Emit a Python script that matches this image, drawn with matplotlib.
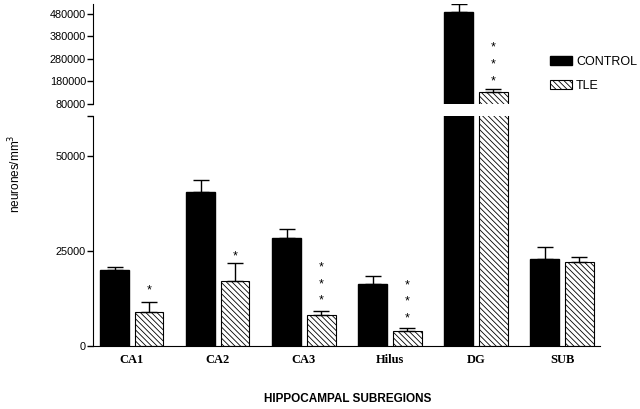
import numpy as np
from matplotlib import pyplot as plt

plt.rcParams['font.family'] = ['Liberation Sans', 'DejaVu Sans']
plt.rcParams['hatch.linewidth'] = 0.6

# Data
regions = ['CA1', 'CA2', 'CA3', 'Hilus', 'DG', 'SUB']
control = [20000, 40500, 28300, 16300, 487000, 22800]
controlErr = [800, 3300, 2500, 2200, 37000, 3300]
tle = [8900, 17200, 8150, 3900, 132000, 22200]
tleErr = [2600, 4700, 1150, 750, 13000, 1300]
stars = [1, 1, 3, 3, 3, 0]
starBase = [15000, 24000, 12300, 7600, 187000, 0]

x = np.arange(len(regions))
w = 0.335
off = 0.2

fig = plt.figure(figsize=(6.4, 4.09), dpi=100)
axTop = fig.add_axes([0.1453, 0.7457, 0.7922, 0.2445])
axBot = fig.add_axes([0.1453, 0.154, 0.7922, 0.5623])

for ax in (axTop, axBot):
    ax.bar(x - off, control, w, color='black', edgecolor='black', label='CONTROL', zorder=2)
    ax.bar(x + off, tle, w, color='white', edgecolor='black', hatch='\\\\\\\\\\\\',
           linewidth=0.8, label='TLE', zorder=2)
    ax.errorbar(x - off, control, yerr=[np.zeros(len(x)), controlErr], fmt='none',
                ecolor='black', elinewidth=1, capsize=5.5, capthick=1, zorder=3)
    ax.errorbar(x + off, tle, yerr=[np.zeros(len(x)), tleErr], fmt='none',
                ecolor='black', elinewidth=1, capsize=5.5, capthick=1, zorder=3)
    ax.set_xlim(-0.45, 5.44)
    for s in ('top', 'right'):
        ax.spines[s].set_visible(False)
    ax.tick_params(axis='y', labelsize=7.8, length=4, width=1, pad=1)

# top panel
axTop.set_ylim(80000, 524000)
axTop.set_yticks([80000, 180000, 280000, 380000, 480000])
axTop.spines['bottom'].set_visible(False)
axTop.set_xticks([])

# bottom panel
axBot.set_ylim(0, 60500)
axBot.set_yticks([0, 25000, 50000, 60500])
axBot.set_yticklabels(['0', '25000', '50000', ''])
axBot.set_xticks(x)
axBot.set_xticklabels(regions, family=['Liberation Serif'], fontweight='bold', fontsize=9)
axBot.tick_params(axis='x', length=0, pad=6)

# significance stars
for i in range(len(x)):
    ax = axTop if i == 4 else axBot
    step = 75500 if i == 4 else 4400
    for k in range(stars[i]):
        ax.text(x[i] + off, starBase[i] + k * step, '*', ha='center', va='center_baseline',
                fontsize=9)

axTop.legend(loc='upper left', bbox_to_anchor=(0.891, 0.53), frameon=False, fontsize=9,
             handlelength=1.8, handleheight=0.75, handletextpad=0.3, labelspacing=0.95,
             borderaxespad=0)

fig.text(0.543, 0.025, 'HIPPOCAMPAL SUBREGIONS', ha='center', va='center',
         fontsize=8.5, fontweight='bold')
fig.text(0.024, 0.575, 'neurones/mm$^3$', rotation=90, ha='center', va='center', fontsize=8.5)

fig.savefig('out.png', dpi=100)
